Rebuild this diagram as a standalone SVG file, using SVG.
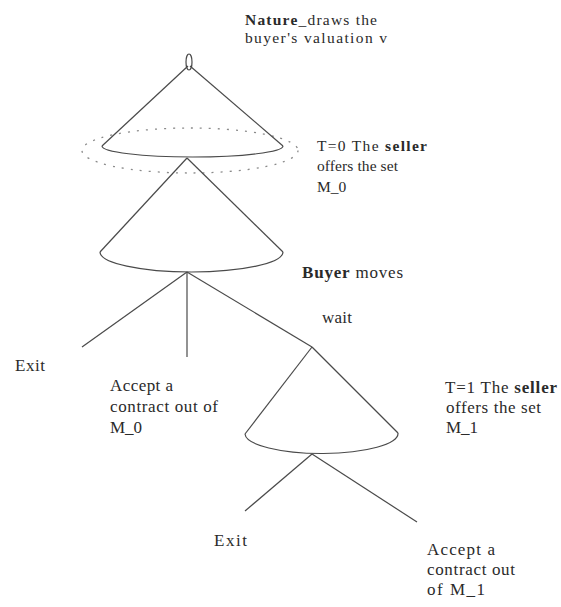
<svg xmlns="http://www.w3.org/2000/svg" width="561" height="607" viewBox="0 0 561 607">
<style>
  .ln{fill:none;stroke:#4a4a4a;stroke-width:1.2}
  .dot{fill:none;stroke:#8a8a8a;stroke-width:1.3;stroke-dasharray:2 7}
  text{font-family:"Liberation Serif","Times New Roman",serif;font-size:17px;fill:#2a2a2a}
  .s{font-size:15.5px}
  .b{font-weight:bold}
</style>
<rect width="561" height="607" fill="#fff"/>
<g id="nature">
  <ellipse class="ln" cx="189" cy="62" rx="3" ry="8"/>
  <text class="s" x="245" y="25" textLength="132"><tspan class="b">Nature</tspan>_draws the</text>
  <text class="s" x="245" y="43" textLength="142">buyer's valuation v</text>
</g>
<g id="seller-t0">
  <path class="ln" d="M102 146 A90.5 11 0 0 0 283 146"/>
  <ellipse class="dot" cx="190" cy="150.5" rx="108" ry="22.5"/>
  <text class="s" x="317" y="151" textLength="110">T=0 The <tspan class="b">seller</tspan></text>
  <text class="s" x="317" y="171" textLength="81">offers the set</text>
  <text class="s" x="317" y="192">M_0</text>
</g>
<g id="buyer-t0">
  <path class="ln" d="M100 252 A91.5 20 0 0 0 283 252"/>
  <text x="302" y="278" textLength="101"><tspan class="b">Buyer</tspan> moves</text>
</g>
<g id="exit-0"><text x="15" y="371" textLength="30">Exit</text></g>
<g id="accept-0">
  <text x="110" y="391" textLength="63">Accept a</text>
  <text x="110" y="412" textLength="108">contract out of</text>
  <text x="110" y="433">M_0</text>
</g>
<g id="seller-t1">
  <path class="ln" d="M245 434 A76.5 20 0 0 0 398 433"/>
  <text x="445" y="393" textLength="112">T=1 The <tspan class="b">seller</tspan></text>
  <text x="446" y="413" textLength="95">offers the set</text>
  <text x="446" y="433">M_1</text>
</g>
<g id="exit-1"><text x="214" y="546" textLength="33">Exit</text></g>
<g id="accept-1">
  <text x="427" y="555" textLength="68">Accept a</text>
  <text x="427" y="575" textLength="88">contract out</text>
  <text x="427" y="595" textLength="58">of  M_1</text>
</g>
<g id="connectors">
  <line class="ln" x1="188" y1="66" x2="102" y2="146"/>
  <line class="ln" x1="190" y1="66" x2="283" y2="146"/>
  <line class="ln" x1="187" y1="158" x2="100" y2="252"/>
  <line class="ln" x1="187" y1="158" x2="283" y2="252"/>
  <line class="ln" x1="187" y1="272" x2="82" y2="347"/>
  <line class="ln" x1="187" y1="272" x2="187" y2="357"/>
  <line class="ln" x1="187" y1="272" x2="312" y2="347"/>
  <line class="ln" x1="312" y1="347" x2="245" y2="434"/>
  <line class="ln" x1="312" y1="347" x2="398" y2="433"/>
  <line class="ln" x1="312" y1="454" x2="245" y2="511"/>
  <line class="ln" x1="312" y1="454" x2="417" y2="522"/>
  <text x="322" y="323" textLength="30">wait</text>
</g>
</svg>
